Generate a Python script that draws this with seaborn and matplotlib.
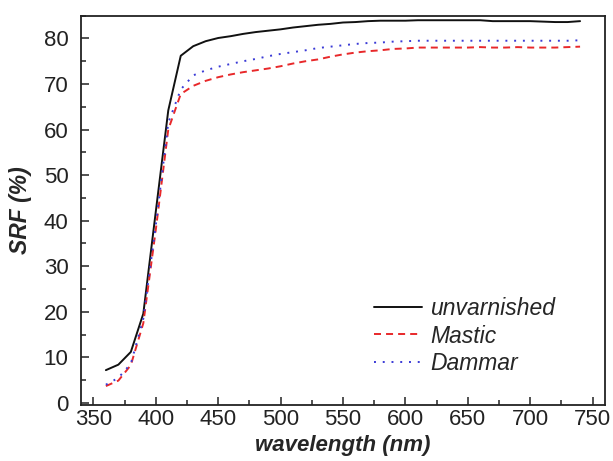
import numpy as np
import pandas as pd
import matplotlib
matplotlib.use("Agg")
import matplotlib.pyplot as plt
from matplotlib.ticker import MultipleLocator
import seaborn as sns

wavelength = [360, 370, 380, 390, 400, 410, 420, 430, 440, 450, 460, 470, 480, 490,
              500, 510, 520, 530, 540, 550, 560, 570, 580, 590, 600, 610, 620, 630,
              640, 650, 660, 670, 680, 690, 700, 710, 720, 730, 740]

unvarnished = [7.2, 8.4, 11.2, 19.6, 42.0, 64.2, 76.2, 78.3, 79.4, 80.1, 80.5, 81.0,
               81.4, 81.7, 82.0, 82.4, 82.7, 83.0, 83.2, 83.5, 83.6, 83.8, 83.9, 83.9,
               83.9, 84.0, 84.0, 84.0, 84.0, 84.0, 84.0, 83.8, 83.8, 83.8, 83.8, 83.7,
               83.6, 83.6, 83.8]

mastic = [3.7, 4.9, 8.3, 17.5, 38.0, 60.0, 67.8, 69.6, 70.7, 71.5, 72.1, 72.6, 73.0,
          73.4, 73.9, 74.5, 75.0, 75.4, 76.0, 76.5, 76.9, 77.2, 77.4, 77.7, 77.8,
          78.0, 78.0, 78.0, 78.0, 78.0, 78.1, 78.0, 78.0, 78.1, 78.0, 78.0, 78.0,
          78.1, 78.2]

dammar = [4.0, 5.5, 8.6, 18.5, 39.0, 61.5, 68.8, 71.9, 73.0, 73.8, 74.4, 75.0, 75.5,
          76.1, 76.6, 77.0, 77.4, 77.9, 78.2, 78.5, 78.8, 79.0, 79.1, 79.3, 79.4,
          79.5, 79.5, 79.5, 79.5, 79.5, 79.5, 79.5, 79.5, 79.5, 79.5, 79.5, 79.5,
          79.5, 79.6]

series_names = ["unvarnished", "Mastic", "Dammar"]

df = pd.concat([
    pd.DataFrame({"wavelength": wavelength, "SRF": vals, "sample": name})
    for name, vals in zip(series_names, [unvarnished, mastic, dammar])
], ignore_index=True)

sns.set_style("ticks")
plt.rcParams["font.family"] = ["Liberation Sans", "DejaVu Sans"]

fig = plt.figure(figsize=(6.13, 4.61), dpi=100)
ax = fig.add_axes([0.132, 0.121, 0.855, 0.845])

palette = {"unvarnished": "#111111", "Mastic": "#e8282a", "Dammar": "#3a3ad6"}
dashes = {"unvarnished": "", "Mastic": (3.6, 2.6), "Dammar": (1, 3.5)}

sns.lineplot(data=df, x="wavelength", y="SRF", hue="sample", style="sample",
             palette=palette, dashes=dashes, linewidth=1.4, ax=ax,
             hue_order=series_names, style_order=series_names)

ax.set_xlim(340, 760)
ax.set_ylim(-0.5, 85)
ax.xaxis.set_major_locator(MultipleLocator(50))
ax.xaxis.set_minor_locator(MultipleLocator(25))
ax.yaxis.set_major_locator(MultipleLocator(10))
ax.yaxis.set_minor_locator(MultipleLocator(5))
ax.tick_params(which="both", direction="in", top=False, right=False, labelsize=16,
               colors="#222222", width=1.1)
ax.tick_params(axis="y", which="major", pad=9)
ax.tick_params(axis="x", which="major", pad=3)
ax.tick_params(which="major", length=6)
ax.tick_params(which="minor", length=3.5)
for s in ax.spines.values():
    s.set_visible(True)
    s.set_linewidth(1.3)
    s.set_color("#222222")

ax.set_xlabel("wavelength (nm)", fontsize=16, fontweight="bold", fontstyle="italic",
              labelpad=3)
ax.set_ylabel("SRF (%)", fontsize=16.5, fontweight="bold", fontstyle="italic",
              labelpad=8)

leg = ax.legend(loc="upper left", bbox_to_anchor=(0.559, 0.278), frameon=False,
                fontsize=16.5, handlelength=2.1, handletextpad=0.35, labelspacing=0.2,
                borderpad=0, borderaxespad=0)
for t in leg.get_texts():
    t.set_fontstyle("italic")

fig.savefig("out.png", dpi=100)
